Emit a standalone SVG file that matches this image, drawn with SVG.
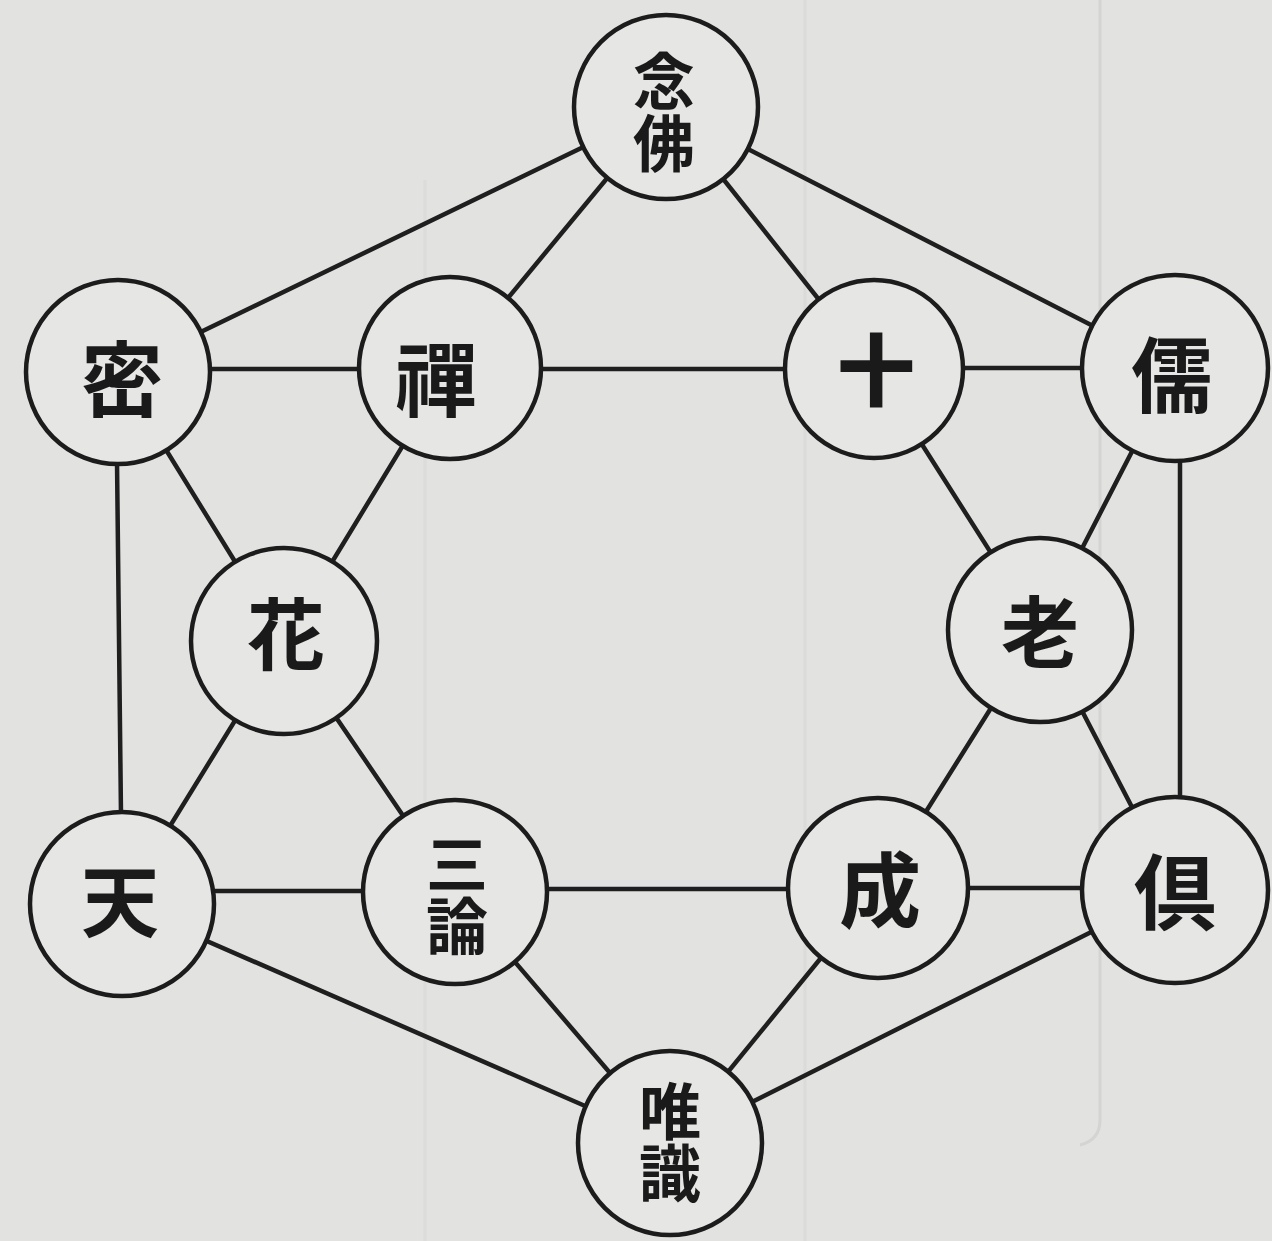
<svg xmlns="http://www.w3.org/2000/svg" width="1272" height="1241" viewBox="0 0 1272 1241">
<style>
.bg{fill:#e2e2e0}
.ghost{stroke:#d4d4d2;stroke-width:3;fill:none}
.edge{stroke:#1f1f1f;stroke-width:4.5;stroke-linecap:round}
.node circle{fill:#e6e6e4;stroke:#1c1c1c;stroke-width:4.5}
.node text{font-family:"Noto Sans CJK JP","Noto Sans CJK SC",sans-serif;font-weight:600;fill:#1a1a1a;text-anchor:middle;dominant-baseline:central}
.big{font-size:82px}
.two{font-size:62px;writing-mode:vertical-rl}
</style>
<rect class="bg" x="0" y="0" width="1272" height="1241"/>
<g id="paper">
<path class="ghost" d="M1100 0 V1120 Q1100 1140 1080 1145"/>
<path class="ghost" d="M805 0 V1241" opacity="0.5"/>
<path class="ghost" d="M425 180 V1241" opacity="0.4"/>
</g>
<g id="connectors">
<line class="edge" x1="118" y1="372" x2="666" y2="107"/>
<line class="edge" x1="666" y1="107" x2="1175" y2="368"/>
<line class="edge" x1="666" y1="107" x2="450" y2="368"/>
<line class="edge" x1="666" y1="107" x2="874" y2="369"/>
<line class="edge" x1="118" y1="369" x2="450" y2="369"/>
<line class="edge" x1="450" y1="369" x2="874" y2="369"/>
<line class="edge" x1="874" y1="368" x2="1175" y2="368"/>
<line class="edge" x1="118" y1="372" x2="284" y2="641"/>
<line class="edge" x1="450" y1="368" x2="284" y2="641"/>
<line class="edge" x1="116" y1="372" x2="122" y2="904"/>
<line class="edge" x1="874" y1="369" x2="1040" y2="630"/>
<line class="edge" x1="1175" y1="368" x2="1040" y2="630"/>
<line class="edge" x1="1180" y1="368" x2="1180" y2="890"/>
<line class="edge" x1="284" y1="641" x2="122" y2="904"/>
<line class="edge" x1="284" y1="641" x2="455" y2="892"/>
<line class="edge" x1="1040" y1="630" x2="878" y2="888"/>
<line class="edge" x1="1040" y1="630" x2="1175" y2="890"/>
<line class="edge" x1="122" y1="891" x2="455" y2="891"/>
<line class="edge" x1="455" y1="889" x2="878" y2="889"/>
<line class="edge" x1="878" y1="888" x2="1175" y2="888"/>
<line class="edge" x1="122" y1="904" x2="670" y2="1143"/>
<line class="edge" x1="455" y1="892" x2="670" y2="1143"/>
<line class="edge" x1="878" y1="888" x2="670" y2="1143"/>
<line class="edge" x1="1175" y1="890" x2="670" y2="1143"/>
</g>
<g id="nenbutsu" class="node"><circle cx="666" cy="107" r="92"/><text class="two" x="664" y="112">念佛</text></g>
<g id="mitsu" class="node"><circle cx="118" cy="372" r="92"/><text class="big" x="122" y="374">密</text></g>
<g id="zen" class="node"><circle cx="450" cy="368" r="91"/><text class="big" x="436" y="374">禪</text></g>
<g id="juu" class="node"><circle cx="874" cy="369" r="89"/><text class="big" x="876" y="366" style="font-weight:900;font-size:78px">十</text></g>
<g id="ju" class="node"><circle cx="1175" cy="368" r="93"/><text class="big" x="1172" y="370">儒</text></g>
<g id="ke" class="node"><circle cx="284" cy="641" r="93"/><text class="big" x="286" y="630" style="font-size:78px">花</text></g>
<g id="rou" class="node"><circle cx="1040" cy="630" r="92"/><text class="big" x="1040" y="628" style="font-size:78px">老</text></g>
<g id="ten" class="node"><circle cx="122" cy="904" r="92"/><text class="big" x="120" y="897" style="font-size:78px">天</text></g>
<g id="sanron" class="node"><circle cx="455" cy="892" r="92"/><text class="two" x="457" y="895">三論</text></g>
<g id="jou" class="node"><circle cx="878" cy="888" r="90"/><text class="big" x="880" y="885">成</text></g>
<g id="ku" class="node"><circle cx="1175" cy="890" r="93"/><text class="big" x="1175" y="887">倶</text></g>
<g id="yuishiki" class="node"><circle cx="670" cy="1143" r="92"/><text class="two" x="670" y="1142">唯識</text></g>
</svg>
